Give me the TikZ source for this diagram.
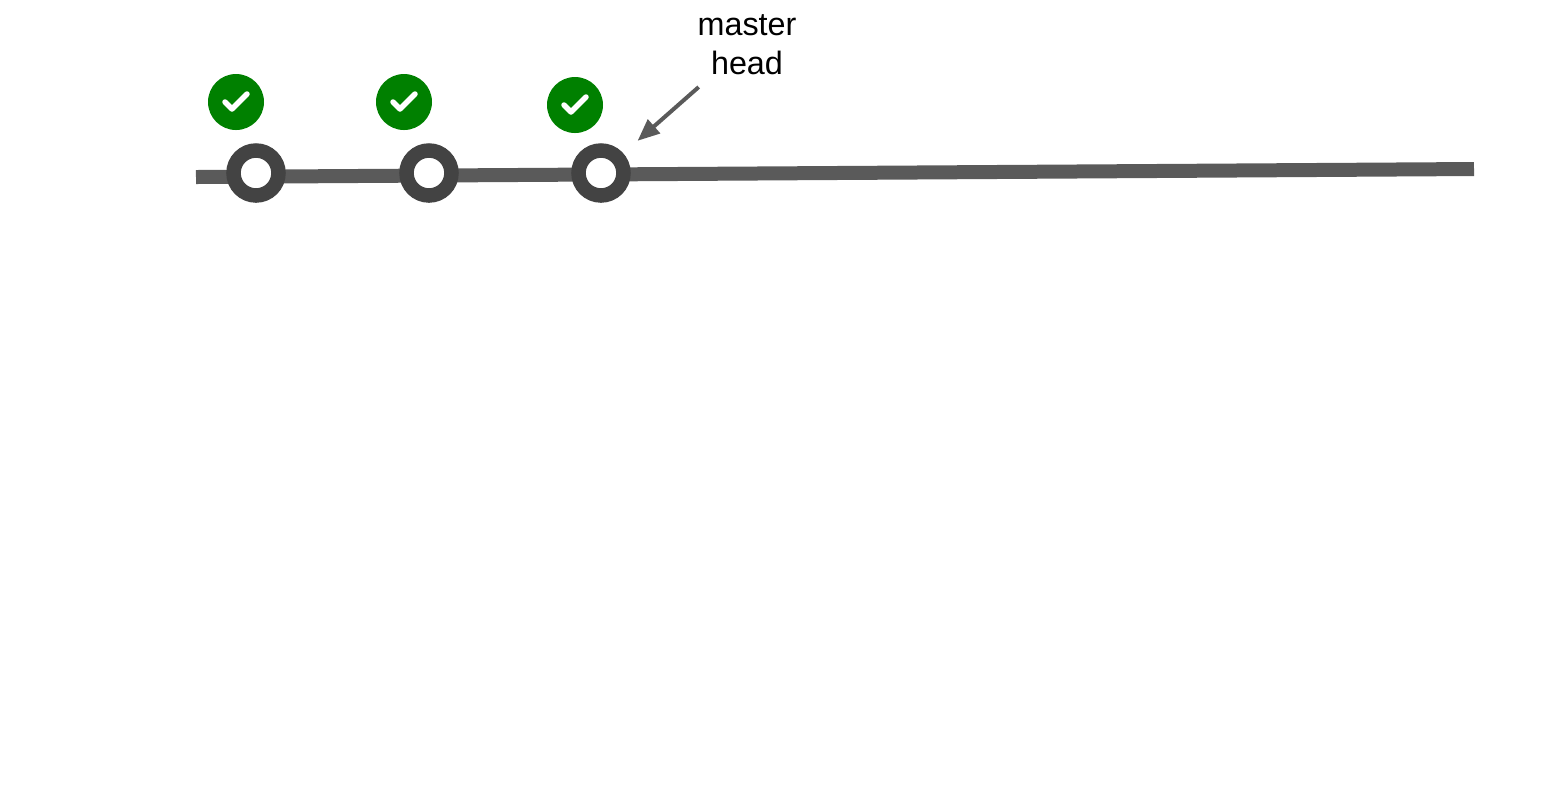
\documentclass[tikz,border=0pt]{standalone}
\usepackage{fontspec}
\setmainfont{Liberation Sans}
\usetikzlibrary{arrows.meta}
\definecolor{mainline}{HTML}{5A5A5A}
\definecolor{commitring}{HTML}{434343}
\definecolor{passgreen}{HTML}{008000}
\tikzset{
    commit/.style={circle, draw=commitring, line width=.145cm, fill=white, inner sep=0pt, minimum size=.45cm},
    passed/.style={circle, fill=passgreen, inner sep=0pt, minimum size=.56cm},
    tick/.style={draw=white, line width=.055cm, line cap=round, line join=round},
    pointer/.style={draw=mainline, line width=.04cm, -{Triangle[length=.22cm, width=.18cm]}, shorten >=.19cm}
}
\begin{document}
\begin{tikzpicture}
        \useasboundingbox (0,0) rectangle (15.43,-7.87);
        \coordinate (start) at (1.96,-1.77);
        \coordinate (end) at (14.74,-1.69);
        \draw[mainline, line width=.14cm] (start)--(end);
        \node[commit] (c1) at (2.56,-1.73) {};
        \node[commit] (c2) at (4.29,-1.73) {};
        \node[commit] (c3) at (6.01,-1.73) {};
        \node[passed] (ok1) at (2.36,-1.02) {};
        \node[passed] (ok2) at (4.04,-1.02) {};
        \node[passed] (ok3) at (5.75,-1.05) {};
        % the white ticks inside the green badges
        \draw[tick] ([shift={(-.11,0)}]ok1.center)--([shift={(-.04,-.07)}]ok1.center)--([shift={(.11,.08)}]ok1.center);
        \draw[tick] ([shift={(-.11,0)}]ok2.center)--([shift={(-.04,-.07)}]ok2.center)--([shift={(.11,.08)}]ok2.center);
        \draw[tick] ([shift={(-.11,0)}]ok3.center)--([shift={(-.04,-.07)}]ok3.center)--([shift={(.11,.08)}]ok3.center);
        \node[align=center, font=\fontsize{9.2pt}{11.1pt}\selectfont] (masterhead) at (7.47,-.445) {master\\head};
        \draw[pointer] (masterhead)--(c3);
\end{tikzpicture}
\end{document}
